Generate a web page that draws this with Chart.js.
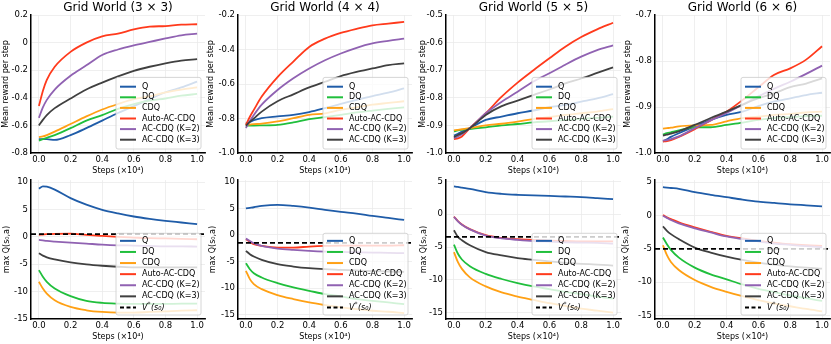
<!DOCTYPE html>
<html>
<head>
<meta charset="utf-8">
<script src="https://cdn.jsdelivr.net/npm/chart.js@4.4.0/dist/chart.umd.min.js"></script>
<style>
  body { margin: 0; background: #fff; width: 831px; height: 344px; overflow: hidden; position: relative; }
  canvas { position: absolute; }
</style>
</head>
<body>
<script>
// shared x positions (steps, x10^4) and the legend entries
const steps = [0, 0.025, 0.05, 0.1, 0.2, 0.3, 0.4, 0.5, 0.6, 0.7, 0.8, 0.9, 1.0];
const methods = ['Q', 'DQ', 'CDQ', 'Auto-AC-CDQ', 'AC-CDQ (K=2)', 'AC-CDQ (K=3)'];
const methodColors = ['#1f5ca8', '#20bf3c', '#ffa014', '#ff3a1c', '#9062b2', '#404040'];
const vStarLabel = 'V*(s₀)';
const xTicks = [0, 0.2, 0.4, 0.6, 0.8, 1.0];
const xTickLabels = ['0.0', '0.2', '0.4', '0.6', '0.8', '1.0'];
const panelTitles = ['Grid World (3 × 3)', 'Grid World (4 × 4)', 'Grid World (5 × 5)', 'Grid World (6 × 6)'];

// mean reward per step, one row per method (same order as methods)
const reward3 = [
  [-0.70, -0.70, -0.70, -0.705, -0.67, -0.62, -0.565, -0.51, -0.46, -0.41, -0.36, -0.325, -0.283],
  [-0.71, -0.70, -0.69, -0.67, -0.62, -0.565, -0.525, -0.48, -0.445, -0.42, -0.405, -0.385, -0.372],
  [-0.685, -0.68, -0.67, -0.645, -0.59, -0.535, -0.485, -0.445, -0.41, -0.39, -0.36, -0.34, -0.325],
  [-0.46, -0.35, -0.27, -0.175, -0.067, 0.0, 0.045, 0.065, 0.095, 0.115, 0.12, 0.13, 0.133],
  [-0.545, -0.47, -0.415, -0.34, -0.24, -0.165, -0.09, -0.05, -0.02, 0.005, 0.03, 0.053, 0.065],
  [-0.60, -0.56, -0.525, -0.475, -0.405, -0.34, -0.29, -0.245, -0.205, -0.175, -0.15, -0.13, -0.12]
];
const reward4 = [
  [-0.83, -0.82, -0.81, -0.798, -0.788, -0.779, -0.763, -0.74, -0.715, -0.692, -0.67, -0.65, -0.625],
  [-0.842, -0.841, -0.841, -0.84, -0.837, -0.823, -0.804, -0.792, -0.779, -0.765, -0.754, -0.744, -0.735],
  [-0.837, -0.835, -0.833, -0.83, -0.817, -0.798, -0.779, -0.77, -0.75, -0.735, -0.72, -0.71, -0.70],
  [-0.837, -0.79, -0.75, -0.673, -0.56, -0.47, -0.385, -0.337, -0.304, -0.28, -0.26, -0.25, -0.24],
  [-0.855, -0.815, -0.78, -0.72, -0.635, -0.567, -0.51, -0.462, -0.423, -0.39, -0.365, -0.35, -0.337],
  [-0.842, -0.82, -0.80, -0.76, -0.70, -0.66, -0.62, -0.587, -0.554, -0.53, -0.51, -0.49, -0.48]
];
const reward5 = [
  [-0.937, -0.93, -0.922, -0.91, -0.88, -0.868, -0.856, -0.846, -0.834, -0.826, -0.814, -0.802, -0.787],
  [-0.922, -0.918, -0.916, -0.913, -0.907, -0.90, -0.895, -0.889, -0.885, -0.88, -0.876, -0.873, -0.868],
  [-0.918, -0.916, -0.914, -0.91, -0.90, -0.894, -0.886, -0.877, -0.87, -0.862, -0.856, -0.85, -0.841],
  [-0.95, -0.947, -0.94, -0.91, -0.856, -0.796, -0.745, -0.70, -0.657, -0.615, -0.58, -0.552, -0.528],
  [-0.946, -0.94, -0.932, -0.91, -0.856, -0.814, -0.778, -0.741, -0.711, -0.68, -0.651, -0.627, -0.61],
  [-0.942, -0.935, -0.928, -0.91, -0.862, -0.83, -0.81, -0.79, -0.77, -0.748, -0.73, -0.71, -0.69]
];
const reward6 = [
  [-0.975, -0.97, -0.965, -0.957, -0.942, -0.928, -0.917, -0.91, -0.898, -0.888, -0.881, -0.874, -0.869],
  [-0.96, -0.957, -0.955, -0.951, -0.944, -0.944, -0.939, -0.934, -0.928, -0.924, -0.922, -0.92, -0.919],
  [-0.947, -0.946, -0.945, -0.942, -0.94, -0.939, -0.931, -0.924, -0.921, -0.917, -0.915, -0.912, -0.91],
  [-0.975, -0.974, -0.972, -0.965, -0.948, -0.929, -0.91, -0.885, -0.857, -0.83, -0.816, -0.797, -0.768],
  [-0.973, -0.972, -0.970, -0.964, -0.946, -0.929, -0.913, -0.895, -0.877, -0.86, -0.845, -0.828, -0.81],
  [-0.962, -0.96, -0.958, -0.953, -0.939, -0.924, -0.91, -0.895, -0.881, -0.87, -0.857, -0.849, -0.838]
];

// max Q(s0, a), one row per method
const maxQ3 = [
  [8.83, 9.26, 9.2, 8.65, 7.1, 5.9, 4.96, 4.29, 3.73, 3.3, 2.94, 2.63, 2.32],
  [-6.1, -7.3, -8.24, -9.47, -10.88, -11.74, -12.1, -12.24, -12.3, -12.3, -12.3, -12.24, -12.24],
  [-8.24, -9.47, -10.4, -11.62, -12.85, -13.46, -13.77, -13.9, -13.9, -13.77, -13.65, -13.52, -13.46],
  [0.36, 0.42, 0.48, 0.55, 0.6, 0.36, 0.17, 0.0, -0.13, -0.25, -0.3, -0.38, -0.44],
  [-0.57, -0.66, -0.75, -0.87, -1.06, -1.24, -1.43, -1.55, -1.6, -1.67, -1.73, -1.73, -1.8],
  [-3.0, -3.45, -3.75, -4.13, -4.68, -5.05, -5.3, -5.48, -5.6, -5.6, -5.6, -5.6, -5.6]
];
const maxQ4 = [
  [5.0, 5.1, 5.2, 5.44, 5.63, 5.44, 5.13, 4.69, 4.31, 4.0, 3.56, 3.19, 2.81],
  [-5.31, -6.44, -7.19, -8.0, -9.06, -9.88, -10.5, -11.13, -11.56, -12.06, -12.38, -12.69, -13.0],
  [-6.75, -8.31, -9.25, -10.19, -11.31, -12.06, -12.69, -13.19, -13.63, -13.94, -14.25, -14.44, -14.69],
  [-0.81, -1.31, -1.75, -2.06, -2.38, -2.38, -2.19, -2.06, -2.0, -2.0, -2.0, -2.0, -1.94],
  [-0.69, -1.13, -1.56, -2.06, -2.56, -2.81, -3.0, -3.13, -3.19, -3.25, -3.31, -3.38, -3.44],
  [-3.0, -3.63, -4.06, -4.69, -5.5, -5.94, -6.25, -6.44, -6.56, -6.69, -6.81, -6.88, -6.94]
];
const maxQ5 = [
  [4.23, 4.15, 4.05, 3.87, 3.36, 3.1, 2.95, 2.85, 2.79, 2.69, 2.59, 2.44, 2.28],
  [-4.64, -6.03, -6.9, -7.92, -9.1, -9.87, -10.49, -11.0, -11.41, -11.82, -12.18, -12.54, -12.85],
  [-5.77, -7.31, -8.33, -9.62, -11.0, -11.92, -12.54, -13.05, -13.56, -13.97, -14.38, -14.69, -15.0],
  [-0.38, -1.05, -1.56, -2.28, -3.2, -3.62, -3.82, -3.92, -4.03, -4.08, -4.13, -4.13, -4.13],
  [-0.4, -1.08, -1.6, -2.32, -3.25, -3.68, -3.9, -4.08, -4.18, -4.28, -4.33, -4.38, -4.49],
  [-2.44, -3.46, -3.97, -4.74, -5.77, -6.28, -6.69, -6.95, -7.2, -7.41, -7.56, -7.67, -7.82]
];
const maxQ6 = [
  [4.25, 4.18, 4.12, 4.0, 3.49, 3.09, 2.74, 2.39, 2.09, 1.88, 1.68, 1.53, 1.38],
  [-3.29, -4.3, -5.15, -6.31, -7.81, -8.82, -9.57, -10.33, -10.98, -11.48, -11.98, -12.39, -12.79],
  [-4.45, -5.95, -6.96, -8.17, -9.67, -10.68, -11.43, -12.09, -12.69, -13.19, -13.59, -14.0, -14.35],
  [0.08, -0.28, -0.53, -1.03, -1.78, -2.44, -3.04, -3.44, -3.79, -4.05, -4.3, -4.45, -4.55],
  [-0.03, -0.36, -0.68, -1.18, -1.93, -2.54, -3.14, -3.54, -3.89, -4.2, -4.4, -4.6, -4.75],
  [-1.63, -2.29, -2.79, -3.54, -4.8, -5.55, -6.16, -6.66, -7.06, -7.36, -7.61, -7.81, -7.96]
];
const vStar = [0.5, -1.5, -3.46, -5.0];

// y tick values and their labels
const rTicks3 = [0.2, 0, -0.2, -0.4, -0.6, -0.8];
const rTickLabels3 = ['0.2', '0', '-0.2', '-0.4', '-0.6', '-0.8'];
const rTicks4 = [-0.2, -0.4, -0.6, -0.8, -1.0];
const rTickLabels4 = ['-0.2', '-0.4', '-0.6', '-0.8', '-1.0'];
const rTicks5 = [-0.5, -0.6, -0.7, -0.8, -0.9, -1.0];
const rTickLabels5 = ['-0.5', '-0.6', '-0.7', '-0.8', '-0.9', '-1.0'];
const rTicks6 = [-0.7, -0.8, -0.9, -1.0];
const rTickLabels6 = ['-0.7', '-0.8', '-0.9', '-1.0'];
const qTicksA = [10, 5, 0, -5, -10, -15];
const qTickLabelsA = ['10', '5', '0', '-5', '-10', '-15'];
const qTicksB = [5, 0, -5, -10, -15];
const qTickLabelsB = ['5', '0', '-5', '-10', '-15'];

Chart.defaults.font.family = '"DejaVu Sans"';
Chart.defaults.color = '#000';

const topRow = { top: 0, h: 176, padTop: 15, xh: 23, xtPad: 0, rowH: 10.6, legPad: 4, ylabel: 'Mean reward per step' };
const botRow = { top: 172, h: 172, padTop: 8, xh: 25, xtPad: 2.5, rowH: 11.1, legPad: 2, ylabel: 'max Q(s₀,a)' };

const panels = [
  { row: topRow, rows: reward3, ticks: rTicks3, labels: rTickLabels3, min: -0.8, max: 0.2, title: panelTitles[0], cl: 1, spine: 31, right: 205 },
  { row: topRow, rows: reward4, ticks: rTicks4, labels: rTickLabels4, min: -1.0, max: -0.2, title: panelTitles[1], cl: 206, spine: 238, right: 412 },
  { row: topRow, rows: reward5, ticks: rTicks5, labels: rTickLabels5, min: -1.0, max: -0.5, title: panelTitles[2], cl: 418, spine: 446, right: 621 },
  { row: topRow, rows: reward6, ticks: rTicks6, labels: rTickLabels6, min: -1.0, max: -0.7, title: panelTitles[3], cl: 623, spine: 655, right: 830 },
  { row: botRow, rows: maxQ3, ticks: qTicksA, labels: qTickLabelsA, min: -15.06, max: 10.4, vstar: vStar[0], cl: 2, spine: 31, right: 205 },
  { row: botRow, rows: maxQ4, ticks: qTicksA, labels: qTickLabelsA, min: -15.8, max: 10.3, vstar: vStar[1], cl: 208, spine: 238, right: 412 },
  { row: botRow, rows: maxQ5, ticks: qTicksB, labels: qTickLabelsB, min: -15.96, max: 5.19, vstar: vStar[2], cl: 419, spine: 446, right: 621 },
  { row: botRow, rows: maxQ6, ticks: qTicksB, labels: qTickLabelsB, min: -15.5, max: 5.3, vstar: vStar[3], cl: 621, spine: 655, right: 830 }
];

function decor(p) {
  return {
    id: 'decor',
    afterDatasetsDraw(chart) {
      const ctx = chart.ctx, a = chart.chartArea;
      const items = methods.map((m, i) => ({ label: m, color: methodColors[i] }));
      if (p.vstar !== undefined) items.push({ label: vStarLabel, color: '#000', dash: true });
      const rowH = p.row.rowH, pad = p.row.legPad;
      const w = 85, h = items.length * rowH + 2 * pad;
      const x = a.right - 4 - w, y = a.bottom - 4 - h;
      ctx.save();
      ctx.beginPath();
      ctx.roundRect(x, y, w, h, 2);
      ctx.fillStyle = 'rgba(255,255,255,0.8)';
      ctx.fill();
      ctx.strokeStyle = '#cccccc';
      ctx.lineWidth = 0.8;
      ctx.stroke();
      items.forEach((it, i) => {
        const cy = y + pad + rowH * (i + 0.5);
        ctx.beginPath();
        ctx.setLineDash(it.dash ? [4, 2.5] : []);
        ctx.strokeStyle = it.color;
        ctx.lineWidth = 2;
        ctx.moveTo(x + 4, cy);
        ctx.lineTo(x + 20, cy);
        ctx.stroke();
        ctx.setLineDash([]);
        ctx.fillStyle = '#000';
        ctx.textBaseline = 'middle';
        ctx.textAlign = 'left';
        const tx = x + 26;
        if (it.dash) {
          // V^*(s_0) like matplotlib mathtext
          ctx.font = 'italic 8px "DejaVu Sans"';
          ctx.fillText('V', tx, cy);
          let dx = ctx.measureText('V').width;
          ctx.font = '6px "DejaVu Sans"';
          ctx.fillText('*', tx + dx, cy - 3);
          dx += ctx.measureText('*').width + 0.5;
          ctx.font = 'italic 8px "DejaVu Sans"';
          ctx.fillText('(s₀)', tx + dx, cy);
        } else {
          ctx.font = '8px "DejaVu Sans"';
          ctx.fillText(it.label, tx, cy);
        }
      });
      ctx.restore();
    },
    afterDraw(chart) {
      if (!p.title) return;
      const ctx = chart.ctx, a = chart.chartArea;
      ctx.save();
      ctx.font = '12px "DejaVu Sans"';
      ctx.fillStyle = '#000';
      ctx.textAlign = 'center';
      ctx.textBaseline = 'middle';
      ctx.fillText(p.title, (a.left + a.right) / 2, 7.5);
      ctx.restore();
    }
  };
}

panels.forEach(p => {
  const cw = Math.min(p.right - p.cl + 4, 831 - p.cl);
  const canvas = document.createElement('canvas');
  canvas.width = cw;
  canvas.height = p.row.h;
  canvas.style.left = p.cl + 'px';
  canvas.style.top = p.row.top + 'px';
  document.body.appendChild(canvas);

  const datasets = p.rows.map((vals, i) => ({
    label: methods[i],
    data: steps.map((s, j) => ({ x: s, y: vals[j] })),
    borderColor: methodColors[i],
    borderWidth: 1.8,
    pointRadius: 0,
    cubicInterpolationMode: 'monotone',
    order: 10 - i
  }));
  if (p.vstar !== undefined) {
    datasets.push({
      label: vStarLabel,
      data: [{ x: -0.05, y: p.vstar }, { x: 1.05, y: p.vstar }],
      borderColor: '#000',
      borderWidth: 1.8,
      borderDash: [5, 3],
      pointRadius: 0,
      order: 0
    });
  }

  new Chart(canvas, {
    type: 'line',
    data: { datasets },
    options: {
      responsive: false,
      animation: false,
      devicePixelRatio: 1,
      layout: { padding: { top: p.row.padTop, right: cw - (p.right - p.cl), left: 0, bottom: 0 } },
      plugins: { legend: { display: false }, title: { display: false }, tooltip: { enabled: false } },
      scales: {
        x: {
          type: 'linear', min: -0.05, max: 1.05,
          afterBuildTicks: s => { s.ticks = xTicks.map(v => ({ value: v })); },
          afterFit: s => { s.height = p.row.xh; },
          grid: { color: '#ebebeb', drawTicks: false, lineWidth: 0.8 },
          border: { color: '#000', width: 1.5 },
          ticks: { padding: 2, autoSkip: false, maxRotation: 0, color: '#000', font: { size: 8.5 }, callback: (v, i) => xTickLabels[i] },
          title: { display: true, text: 'Steps (×10⁴)', color: '#000', font: { size: 8 }, padding: { top: 0, bottom: p.row.xtPad } }
        },
        y: {
          min: p.min, max: p.max,
          afterBuildTicks: s => { s.ticks = p.ticks.map(v => ({ value: v })); },
          afterFit: s => { s.width = p.spine - p.cl; },
          grid: { color: '#ebebeb', drawTicks: false, lineWidth: 0.8 },
          border: { color: '#000', width: 1.5 },
          ticks: { padding: 3, autoSkip: false, color: '#000', font: { size: 8.5 }, callback: (v, i) => p.labels[i] },
          title: { display: true, text: p.row.ylabel, color: '#000', font: { size: 8 }, padding: { top: 0, bottom: 0 } }
        }
      }
    },
    plugins: [decor(p)]
  });
});
</script>
</body>
</html>
